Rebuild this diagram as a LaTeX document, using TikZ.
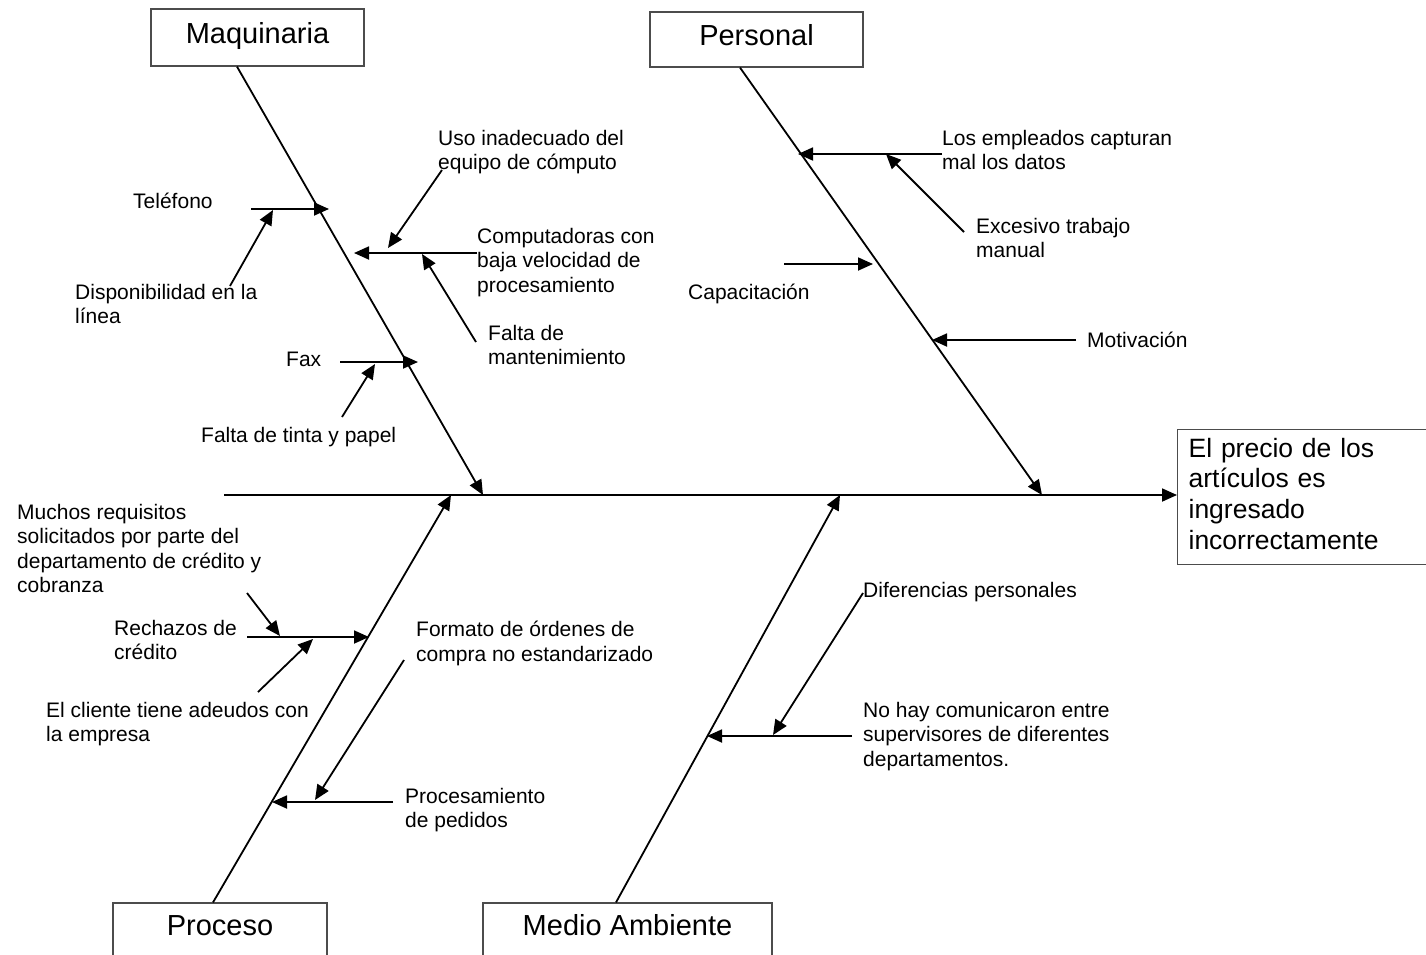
\documentclass[tikz,border=0pt]{standalone}
\usepackage{fontspec}
\setmainfont{Liberation Sans}
\usetikzlibrary{arrows.meta,calc}
\begin{document}
\begin{tikzpicture}[x=1pt,y=-1pt,
  bone/.style={line width=1.8pt,-{Triangle[length=15pt,width=13pt]}},
  lbl/.style={anchor=north west,inner sep=0pt,align=left,
    font=\fontsize{21}{24.5}\selectfont,execute at begin node=\strut},
  cat/.style={draw=black!70,line width=1.2pt,inner xsep=0pt,inner ysep=0pt,
    anchor=base,font=\fontsize{29}{34}\selectfont},
]
\useasboundingbox (0,0) rectangle (1426,954);
\clip (0,0) rectangle (1426,954);

% category boxes
\node[cat,text height=34pt,text depth=23pt,minimum width=213pt] (maq) at (257.5,43) {Maquinaria};
\node[cat,text height=33pt,text depth=22pt,minimum width=213pt] (per) at (756.5,45) {Personal};
\node[cat,text height=32pt,text depth=40pt,minimum width=214pt] (pro) at (220,935) {Proceso};
\node[cat,text height=32pt,text depth=40pt,minimum width=289pt] (med) at (627.5,935) {Medio Ambiente};

% effect box
\node[draw=black!70,line width=1.2pt,anchor=north west,inner xsep=11pt,inner ysep=0pt,
  text width=290pt,minimum height=135pt,align=left,
  font=\fontsize{26.5}{30.7}\selectfont] (eff) at (1177,429)
  {\strut El precio de los\\artículos es\\ingresado\\incorrectamente\strut};

% spine
\coordinate (sp) at (224,495);
\draw[bone] (sp) -- (sp -| eff.west);

% main bones
\coordinate (mA) at (483,495);
\coordinate (mB) at (1042,495);
\coordinate (mC) at (451,495);
\coordinate (mD) at (840,495);
\draw[bone] ($(maq.south)+(-20.5,0)$) -- (mA);
\draw[bone] ($(per.south)+(-16.5,0)$) -- (mB);
\draw[bone] ($(pro.north)+(-7,0)$) -- (mC);
\draw[bone] ($(med.north)+(-11.5,0)$) -- (mD);

% Maquinaria causes
\coordinate (a1) at (251,209); \coordinate (a2) at (329,209);
\draw[bone] (a1) -- (a2);
\coordinate (a3) at (230,286); \coordinate (a4) at (273,210);
\draw[bone] (a3) -- (a4);
\coordinate (b1) at (477,253); \coordinate (b2) at (354,253);
\draw[bone] (b1) -- (b2);
\coordinate (b3) at (442,170); \coordinate (b4) at (388,248);
\draw[bone] (b3) -- (b4);
\coordinate (b5) at (476,342); \coordinate (b6) at (422,254);
\draw[bone] (b5) -- (b6);
\coordinate (c1) at (340,362); \coordinate (c2) at (418,362);
\draw[bone] (c1) -- (c2);
\coordinate (c3) at (342,417); \coordinate (c4) at (375,364);
\draw[bone] (c3) -- (c4);

\node[lbl] (tel) at (133,191) {Teléfono};
\node[lbl] (dis) at (75,284) {Disponibilidad en la\\línea};
\node[lbl] (uso) at (438,130) {Uso inadecuado del\\equipo de cómputo};
\node[lbl] (com) at (477,228) {Computadoras con\\baja velocidad de\\procesamiento};
\node[lbl] (fmt) at (488,325) {Falta de\\mantenimiento};
\node[lbl] (fax) at (286,349) {Fax};
\node[lbl] (tin) at (201,425) {Falta de tinta y papel};

% Personal causes
\coordinate (d1) at (942,154); \coordinate (d2) at (798,154);
\draw[bone] (d1) -- (d2);
\coordinate (d3) at (964,232); \coordinate (d4) at (886,154);
\draw[bone] (d3) -- (d4);
\coordinate (e1) at (784,264); \coordinate (e2) at (873,264);
\draw[bone] (e1) -- (e2);
\coordinate (f1) at (1076,340); \coordinate (f2) at (932,340);
\draw[bone] (f1) -- (f2);

\node[lbl] (emp) at (942,130) {Los empleados capturan\\mal los datos};
\node[lbl] (exc) at (976,218) {Excesivo trabajo\\manual};
\node[lbl] (cap) at (688,282) {Capacitación};
\node[lbl] (mot) at (1087,330) {Motivación};

% Proceso causes
\coordinate (g1) at (247,637); \coordinate (g2) at (369,637);
\draw[bone] (g1) -- (g2);
\coordinate (g3) at (247,593); \coordinate (g4) at (280,636);
\draw[bone] (g3) -- (g4);
\coordinate (g5) at (258,692); \coordinate (g6) at (313,639);
\draw[bone] (g5) -- (g6);
\coordinate (h1) at (393,802); \coordinate (h2) at (272,802);
\draw[bone] (h1) -- (h2);
\coordinate (h3) at (404,660); \coordinate (h4) at (315,800);
\draw[bone] (h3) -- (h4);

\node[lbl] (muc) at (17,504) {Muchos requisitos\\solicitados por parte del\\departamento de crédito y\\cobranza};
\node[lbl] (rec) at (114,620) {Rechazos de\\crédito};
\node[lbl] (cli) at (46,702) {El cliente tiene adeudos con\\la empresa};
\node[lbl] (for) at (416,621) {Formato de órdenes de\\compra no estandarizado};
\node[lbl] (ped) at (405,788) {Procesamiento\\de pedidos};

% Medio Ambiente causes
\coordinate (k1) at (852,736); \coordinate (k2) at (707,736);
\draw[bone] (k1) -- (k2);
\coordinate (k3) at (863,593); \coordinate (k4) at (773,735);
\draw[bone] (k3) -- (k4);

\node[lbl] (dif) at (863,580) {Diferencias personales};
\node[lbl] (nohay) at (863,702) {No hay comunicaron entre\\supervisores de diferentes\\departamentos.};
\end{tikzpicture}
\end{document}
